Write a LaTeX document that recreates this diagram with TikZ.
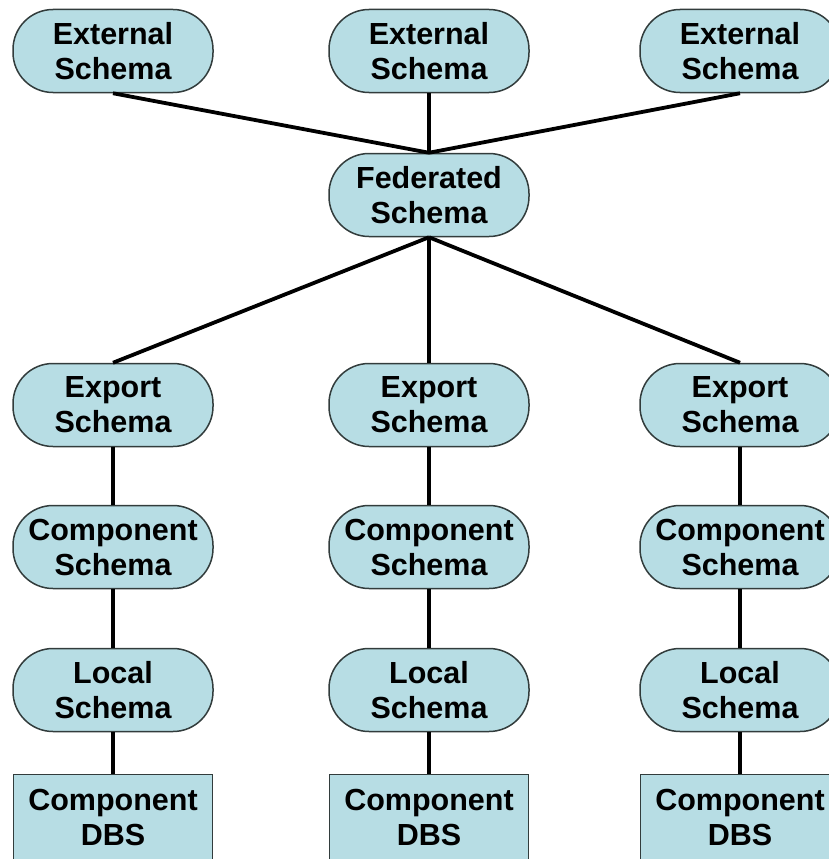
\documentclass[tikz,border=0pt]{standalone}
\usepackage{fontspec}
\setmainfont{Liberation Sans}
\definecolor{schemafill}{RGB}{183,221,228}
\definecolor{schemaedge}{RGB}{50,60,60}
\tikzset{
  schema/.style={draw=schemaedge, line width=1.5pt, fill=schemafill,
    rounded corners=40pt, minimum width=200pt, minimum height=83pt,
    inner sep=0pt, align=center,
    font=\fontsize{30.5}{35}\selectfont\bfseries},
  dbsbox/.style={schema, rounded corners=0pt, minimum width=199pt, minimum height=85pt},
  link/.style={line width=3.8pt, black}
}
\begin{document}
\begin{tikzpicture}[x=1pt, y=-1pt]
    \useasboundingbox (0,0) rectangle (829,859);

    \node[schema] (fed) at (429, 195) {Federated\\Schema};

    \foreach \n/\x in {1/113, 2/429, 3/740} {
      \node[schema] (ext\n) at (\x, 51) {External\\Schema};
      \node[schema] (exp\n) at (\x, 405) {Export\\Schema};
      \node[schema] (comp\n) at (\x, 547) {Component\\Schema};
      \node[schema] (loc\n) at (\x, 690) {Local\\Schema};
      \node[dbsbox] (dbs\n) at (\x, 817) {Component\\DBS};

      \draw[link] (ext\n.south) -- (fed.north);
      \draw[link] (fed.south) -- (exp\n.north);
      \draw[link] (exp\n.south) -- (comp\n.north);
      \draw[link] (comp\n.south) -- (loc\n.north);
      \draw[link] (loc\n.south) -- (dbs\n.north);
    }
  \end{tikzpicture}
\end{document}
